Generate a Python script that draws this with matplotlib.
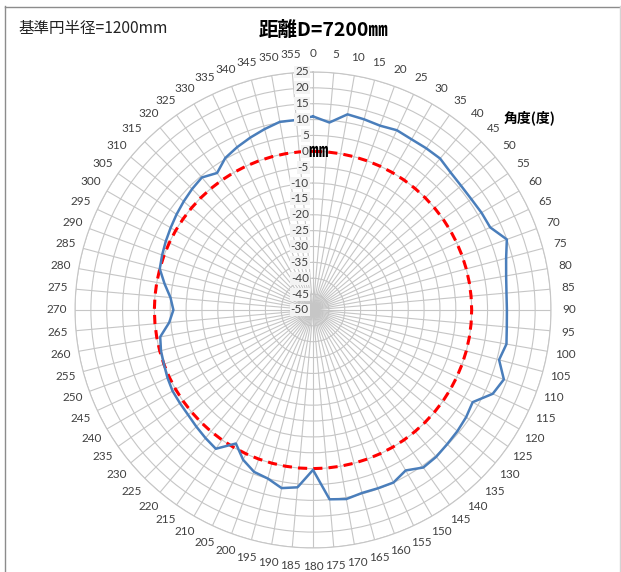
import numpy as np
import matplotlib
matplotlib.use('Agg')
import matplotlib.pyplot as plt
from matplotlib.lines import Line2D

# ---------------- data ----------------
angles_deg = list(range(0, 360, 5))
deviation_mm = [
    11.0, 9.3, 12.6, 12.2, 11.8, 12.5, 12.1, 12.2, 12.3, 11.3,   # 0-45
    10.9, 10.9, 11.3, 11.6, 15.0, 13.0, 11.8, 11.2, 11.1, 11.3,  # 50-95
    11.9, 10.7, 14.0, 12.5, 8.1, 8.9, 9.4, 9.8, 10.4, 10.6,      # 100-145
    8.4, 10.0, 9.8, 9.7, 10.5, 9.9, 0.4, 6.1, 7.0, 5.0,          # 150-195
    4.3, 2.1, -1.4, 3.4, 2.7, 2.0, 1.4, 1.2, 1.1, 0.6,           # 200-245
    0.0, -0.4, -1.1, -4.5, -6.0, -4.9, -2.5, 0.0, 0.6, 1.2,      # 250-295
    1.8, 2.5, 3.2, 3.9, 4.5, 2.7, 5.3, 6.6, 7.8, 9.0,            # 300-345
    10.2, 10.1,                                                  # 350-355
]
reference_mm = [0.0] * len(angles_deg)
r_ticks = list(range(-50, 26, 5))

TITLE = '距離D=7200㎜'
NOTE = '基準円半径=1200mm'
ANGLE_TITLE = '角度(度)'
UNIT = '㎜'

# ---------------- style ----------------
CJK = ['Noto Sans CJK JP', 'DejaVu Sans']
NUM = ['Lato', 'DejaVu Sans']
GRID = '#c6c6c6'
TXT = '#404040'
BLUE = '#4a7ebb'
RED = '#ff0000'
R_MIN, R_MAX = -50, 25
W, H = 621, 572

fig = plt.figure(figsize=(W / 100, H / 100), dpi=100)
fig.patch.set_facecolor('white')

# chart area border (left/top darker, right faint, bottom runs off the image)
def px_line(xs, ys, color):
    fig.add_artist(Line2D([x / W for x in xs], [1 - y / H for y in ys],
                          transform=fig.transFigure, color=color, linewidth=1.0))

px_line([4.5, 4.5], [6, H], '#8c8c8c')
px_line([4.5, 619.5], [6.5, 6.5], '#8c8c8c')
px_line([619.5, 619.5], [6, H], '#d4d4d4')

ax = fig.add_axes([0.1208, 0.042, 0.7665, 0.8322], projection='polar')
ax.set_theta_zero_location('N')
ax.set_theta_direction(-1)
ax.set_ylim(R_MIN, R_MAX)
ax.set_facecolor('white')

theta = np.deg2rad(angles_deg)
ax.set_xticks(theta)
ax.set_xticklabels([])
ax.set_yticks(r_ticks)
ax.set_yticklabels([])
ax.tick_params(length=0)
ax.grid(True, color=GRID, linewidth=0.8)
ax.spines['polar'].set_color(GRID)
ax.spines['polar'].set_linewidth(0.8)

# closed series
th_c = np.append(theta, theta[0])
ax.plot(th_c, reference_mm + reference_mm[:1], color=RED, linewidth=2.2,
        linestyle=(0, (3, 2)), zorder=3)
ax.plot(th_c, deviation_mm + deviation_mm[:1], color=BLUE, linewidth=1.8,
        zorder=4)

# angle labels around the outside
for a in angles_deg:
    ax.text(np.deg2rad(a), 30.7, str(a), ha='center', va='center',
            fontsize=8.5, color=TXT, family=NUM, clip_on=False)

# radial value labels along the 0 deg spoke
for v in r_ticks:
    ax.annotate(str(v), xy=(0, v), xytext=(-3, 0), textcoords='offset points',
                ha='right', va='center', fontsize=8.5, color=TXT, family=NUM,
                bbox=dict(boxstyle='square,pad=0.08', facecolor='#f3f3f3',
                          edgecolor='none'), zorder=5)

ax.annotate(UNIT, xy=(0, 0), xytext=(-3.5, 0), textcoords='offset points',
            ha='left', va='center', fontsize=14, fontweight='bold',
            color='black', family=CJK, zorder=6)

# titles
fig.text(324 / W, 1 - 31 / H, TITLE, ha='center', va='center',
         fontsize=14, fontweight='bold', family=CJK)
fig.text(18 / W, 1 - 28 / H, NOTE, ha='left', va='center',
         fontsize=11.2, family=CJK, color='#222222')
fig.text(530 / W, 1 - 118 / H, ANGLE_TITLE, ha='center', va='center',
         fontsize=10, fontweight='bold', family=CJK)

fig.savefig('out.png', dpi=100)
